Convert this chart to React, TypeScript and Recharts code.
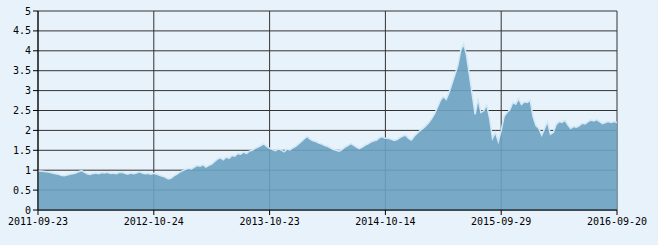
import React from "react";
import { AreaChart, Area, XAxis, YAxis, CartesianGrid } from "recharts";

const tickLabels = ["2011-09-23", "2012-10-24", "2013-10-23", "2014-10-14", "2015-09-29", "2016-09-20"];
const tickIndex = [0, 40, 80, 120, 160, 200];
const yTicks = [0, 0.5, 1, 1.5, 2, 2.5, 3, 3.5, 4, 4.5, 5];

const seg1 = [0.98, 0.98, 0.97, 0.96, 0.95, 0.93, 0.91, 0.9, 0.87, 0.86, 0.88, 0.9, 0.91, 0.93, 0.96, 0.99, 0.95, 0.91, 0.89, 0.92, 0.93, 0.91, 0.94, 0.93, 0.95, 0.92, 0.93, 0.91, 0.94, 0.95, 0.92, 0.9, 0.93, 0.91, 0.93, 0.96, 0.93, 0.91, 0.92, 0.9];
const seg2 = [0.92, 0.9, 0.87, 0.85, 0.82, 0.78, 0.8, 0.86, 0.9, 0.95, 0.99, 1.02, 1.05, 1.03, 1.08, 1.12, 1.1, 1.14, 1.08, 1.12, 1.15, 1.22, 1.28, 1.31, 1.26, 1.33, 1.3, 1.37, 1.35, 1.42, 1.4, 1.46, 1.42, 1.48, 1.5, 1.55, 1.58, 1.62, 1.66, 1.6];
const seg3 = [1.55, 1.52, 1.49, 1.53, 1.51, 1.46, 1.53, 1.51, 1.56, 1.6, 1.66, 1.72, 1.79, 1.85, 1.78, 1.74, 1.72, 1.68, 1.66, 1.62, 1.6, 1.56, 1.52, 1.5, 1.48, 1.52, 1.58, 1.62, 1.67, 1.63, 1.58, 1.54, 1.58, 1.63, 1.66, 1.71, 1.74, 1.76, 1.82, 1.84];
const seg4 = [1.8, 1.8, 1.78, 1.75, 1.77, 1.82, 1.86, 1.88, 1.8, 1.76, 1.86, 1.93, 2.0, 2.05, 2.12, 2.2, 2.3, 2.42, 2.58, 2.75, 2.85, 2.78, 2.95, 3.18, 3.4, 3.62, 4.0, 4.18, 3.9, 3.4, 2.9, 2.4, 2.8, 2.45, 2.5, 2.64, 2.3, 1.8, 1.95, 1.72];
const seg5 = [2.0, 2.35, 2.45, 2.52, 2.7, 2.66, 2.8, 2.65, 2.72, 2.7, 2.76, 2.35, 2.12, 2.05, 1.88, 2.05, 2.22, 1.9, 1.95, 2.15, 2.22, 2.2, 2.26, 2.14, 2.05, 2.1, 2.08, 2.12, 2.18, 2.16, 2.22, 2.26, 2.24, 2.27, 2.22, 2.17, 2.2, 2.22, 2.2, 2.22, 2.2];

const values = [...seg1, ...seg2, ...seg3, ...seg4, ...seg5];
const data = values.map((v, i) => ({ i, v }));

const font = "'DejaVu Sans Mono', monospace";

export default function App() {
  return (
    <div style={{ position: "absolute", left: 0, top: 0, width: 658, height: 245, background: "#E8F2FA" }}>
      <AreaChart width={658} height={245} data={data} margin={{ top: 11, right: 41, left: 0, bottom: 0 }}>
        <CartesianGrid stroke="#333" strokeWidth={1} verticalPoints={undefined} />
        <XAxis
          dataKey="i"
          type="number"
          domain={[0, 200]}
          ticks={tickIndex}
          tickFormatter={(v: number) => tickLabels[tickIndex.indexOf(v)] ?? ""}
          height={35}
          tickSize={5}
          tickMargin={3}
          stroke="#000"
          tick={{ fill: "#000", fontSize: 10, fontFamily: font }}
          interval={0}
        />
        <YAxis
          type="number"
          domain={[0, 5]}
          ticks={yTicks}
          width={38}
          tickSize={5}
          tickMargin={2}
          stroke="#000"
          tick={{ fill: "#000", fontSize: 10, fontFamily: font }}
          interval={0}
        />
        <Area
          type="linear"
          dataKey="v"
          stroke="#d2e8f6"
          strokeWidth={1.5}
          fill="#6BA2C1"
          fillOpacity={0.9}
          isAnimationActive={false}
          dot={false}
          activeDot={false}
        />
      </AreaChart>
    </div>
  );
}
